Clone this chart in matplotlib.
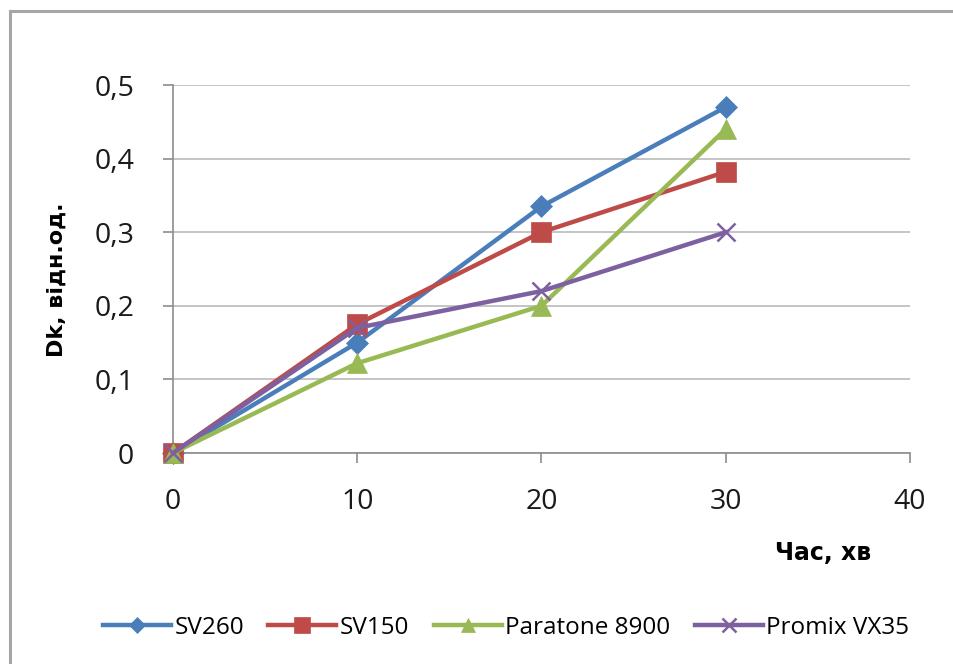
import matplotlib
matplotlib.use("Agg")
import matplotlib.pyplot as plt
from matplotlib.patches import Rectangle

# data
time_min = [0, 10, 20, 30]
sv260 = [0, 0.15, 0.335, 0.47]
sv150 = [0, 0.175, 0.30, 0.382]
paratone = [0, 0.122, 0.20, 0.44]
promix = [0, 0.17, 0.22, 0.30]

x_ticks = [0, 10, 20, 30, 40]
y_ticks = [0, 0.1, 0.2, 0.3, 0.4, 0.5]
y_labels = ["0", "0,1", "0,2", "0,3", "0,4", "0,5"]

plt.rcParams['font.family'] = ['Open Sans', 'DejaVu Sans']

fig = plt.figure(figsize=(9.54, 6.64), dpi=100)
ax = fig.add_axes([173/954, 1-453/664, (910-173)/954, (453-85)/664])

# outer frame of the chart area
fig.patches.append(Rectangle((10/954, -0.05), 1.1, 1-11/664+0.05, transform=fig.transFigure,
                             fill=False, edgecolor='#a6a6a6', linewidth=2.2))

series = [
    (sv260, 'SV260', '#4a7ebb', 'D', 11),
    (sv150, 'SV150', '#be4b48', 's', 15),
    (paratone, 'Paratone 8900', '#98b954', '^', 14),
    (promix, 'Promix VX35', '#7d60a0', 'x', 13),
]
for vals, name, clr, mk, ms in series:
    ax.plot(time_min, vals, color=clr, linewidth=3.2, marker=mk, markersize=ms,
            markeredgewidth=1.8 if mk == 'x' else 0.5, markeredgecolor=clr,
            label=name, clip_on=False, zorder=3)

ax.set_xlim(0, 40)
ax.set_ylim(0, 0.5)
ax.set_xticks(x_ticks)
ax.set_yticks(y_ticks)
ax.set_yticklabels(y_labels)
ax.grid(axis='y', color='#bfbfbf', linewidth=1.3)
ax.set_axisbelow(True)
for s in ['top', 'right']:
    ax.spines[s].set_visible(False)
for s in ['left', 'bottom']:
    ax.spines[s].set_color('#8c8c8c')
    ax.spines[s].set_linewidth(1.2)
ax.tick_params(axis='both', colors='#8c8c8c', length=7, width=1.2, labelsize=20.5,
               labelcolor='#1a1a1a')
ax.tick_params(axis='x', pad=18)
ax.tick_params(axis='y', pad=21)

fig.text(57/954, 1-280/664, 'Dk, відн.од.', rotation=90, ha='center', va='center',
         fontsize=16, fontweight='bold', family=['DejaVu Sans'])
fig.text(823/954, 1-553/664, 'Час, хв', ha='center', va='center',
         fontsize=17, fontweight='bold', family=['DejaVu Sans'])

fig.legend(loc='center', bbox_to_anchor=(506/954, 1-628/664), ncol=4, frameon=False,
           fontsize=17.5, handlelength=2.8, handletextpad=0.15, columnspacing=1.0,
           markerscale=0.75)

fig.savefig('out.png', dpi=100)
